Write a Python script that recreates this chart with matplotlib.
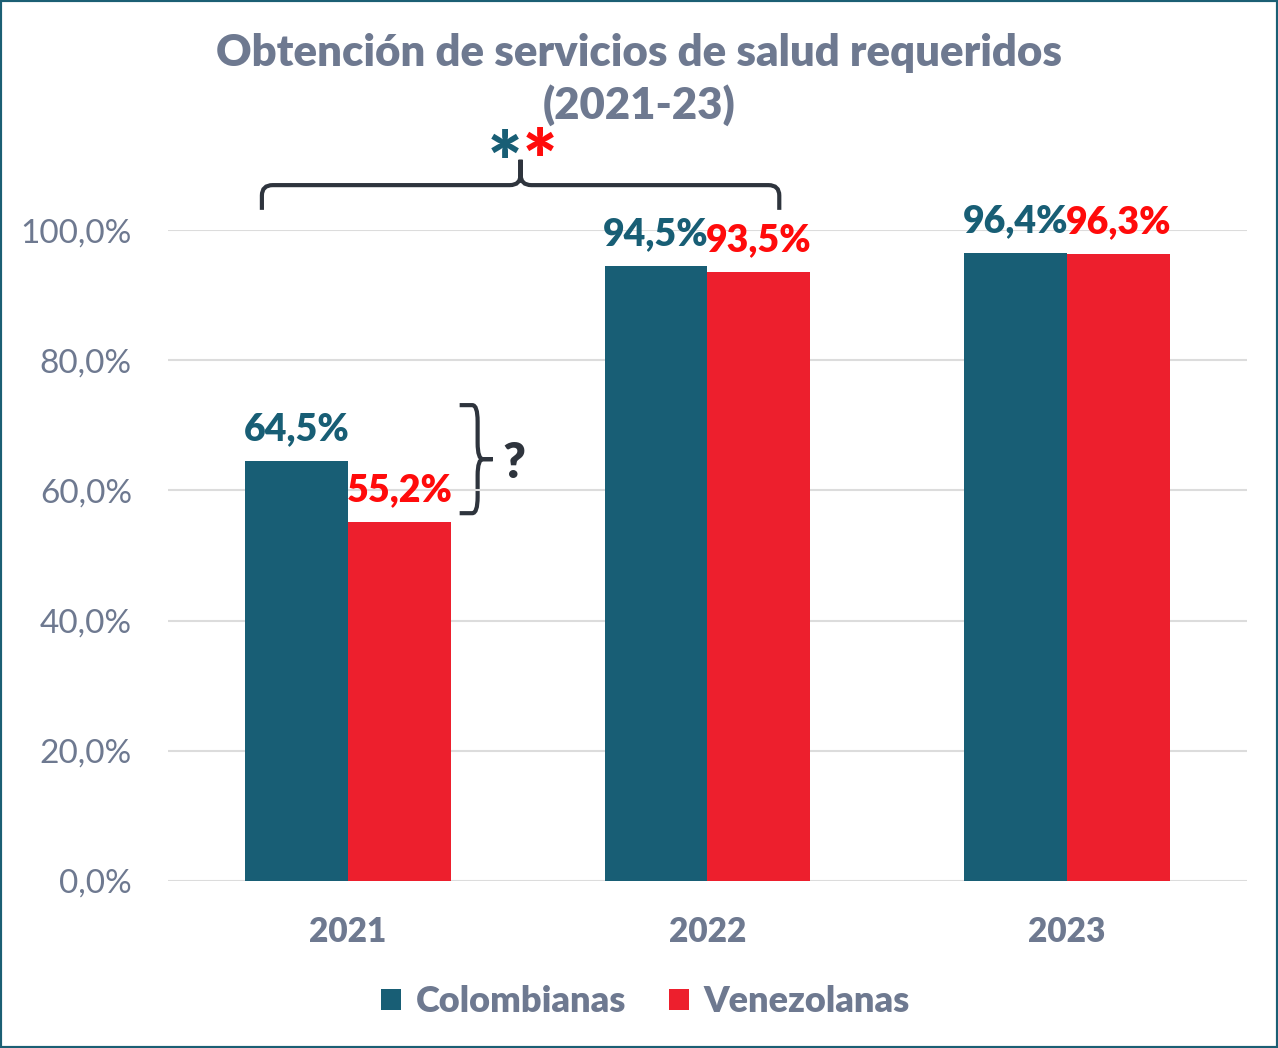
import matplotlib
matplotlib.use('Agg')
import matplotlib.pyplot as plt
from matplotlib.path import Path
from matplotlib.patches import PathPatch, Rectangle
import numpy as np

years = ['2021', '2022', '2023']
colombianas = [64.5, 94.5, 96.4]
venezolanas = [55.2, 93.5, 96.3]
series_names = ['Colombianas', 'Venezolanas']
title = 'Obtención de servicios de salud requeridos\n(2021-23)'

TEAL = '#185e75'
RED = '#ed1f2d'
RED_TXT = '#ff0b0b'
GRAY = '#6e7990'
DARK = '#2e343d'
BOLD = 800

plt.rcParams['font.family'] = ['Lato', 'DejaVu Sans']


def fmt(v):
    return f'{v:.1f}'.replace('.', ',') + '%'


def top_brace(ax, x0, x1, yb, yh, yt, rx, ry):
    xm = (x0 + x1) / 2
    verts = [(x0, yb), (x0, yh - ry), (x0, yh), (x0 + rx, yh),
             (xm - rx, yh), (xm, yh), (xm, yh + ry), (xm, yt),
             (xm, yt), (xm, yh + ry), (xm, yh), (xm + rx, yh),
             (x1 - rx, yh), (x1, yh), (x1, yh - ry), (x1, yb)]
    codes = [Path.MOVETO, Path.LINETO, Path.CURVE3, Path.CURVE3,
             Path.LINETO, Path.CURVE3, Path.CURVE3, Path.LINETO,
             Path.MOVETO, Path.LINETO, Path.CURVE3, Path.CURVE3,
             Path.LINETO, Path.CURVE3, Path.CURVE3, Path.LINETO]
    ax.add_patch(PathPatch(Path(verts, codes), fill=False, ec=DARK, lw=3,
                           clip_on=False, capstyle='butt'))


def right_brace(ax, y0, y1, xb, xh, xt, rx, ry):
    ym = (y0 + y1) / 2
    verts = [(xb, y1), (xh - rx, y1), (xh, y1), (xh, y1 - ry),
             (xh, ym + ry), (xh, ym), (xh + rx, ym), (xt, ym),
             (xt, ym), (xh + rx, ym), (xh, ym), (xh, ym - ry),
             (xh, y0 + ry), (xh, y0), (xh - rx, y0), (xb, y0)]
    codes = [Path.MOVETO, Path.LINETO, Path.CURVE3, Path.CURVE3,
             Path.LINETO, Path.CURVE3, Path.CURVE3, Path.LINETO,
             Path.MOVETO, Path.LINETO, Path.CURVE3, Path.CURVE3,
             Path.LINETO, Path.CURVE3, Path.CURVE3, Path.LINETO]
    ax.add_patch(PathPatch(Path(verts, codes), fill=False, ec=DARK, lw=3,
                           clip_on=False, capstyle='butt'))


fig = plt.figure(figsize=(12.78, 10.48), dpi=100)
ax = fig.add_axes([0.1315, 0.1594, 0.844, 0.6211])

x = np.arange(len(years))
w = 0.286
b1 = ax.bar(x - w / 2, colombianas, w, color=TEAL, label=series_names[0], zorder=3)
b2 = ax.bar(x + w / 2, venezolanas, w, color=RED, label=series_names[1], zorder=3)

for bars, vals, col in [(b1, colombianas, TEAL), (b2, venezolanas, RED_TXT)]:
    for r, v in zip(bars, vals):
        ax.annotate(fmt(v), (r.get_x() + r.get_width() / 2, v),
                    xytext=(0, 15), textcoords='offset points',
                    ha='center', va='baseline', fontsize=27, fontweight=BOLD,
                    color=col, zorder=4)

ax.set_xlim(-0.5, 2.5)
ax.set_ylim(0, 100)
ax.set_yticks(np.arange(0, 101, 20))
ax.set_yticklabels([fmt(v) for v in np.arange(0, 101, 20)])
ax.set_xticks(x)
ax.set_xticklabels(years, fontweight=BOLD)
ax.tick_params(axis='y', length=0, labelsize=24, labelcolor=GRAY, pad=26)
ax.tick_params(axis='x', length=0, labelsize=24, labelcolor=GRAY, pad=25)
ax.grid(axis='y', color='#dcdcdc', lw=1.5, zorder=0)
for s in ax.spines.values():
    s.set_visible(False)

# annotations
top_brace(ax, -0.239, 1.2, 103.1, 106.9, 110.8, 0.03, 1.6)
ax.text(0.436, 106.0, '*', color=TEAL, fontsize=58, fontweight=BOLD,
        ha='center', va='baseline', clip_on=False)
ax.text(0.533, 106.3, '*', color=RED_TXT, fontsize=58, fontweight=BOLD,
        ha='center', va='baseline', clip_on=False)

right_brace(ax, 56.5, 73.1, 0.311, 0.361, 0.403, 0.015, 2.5)
ax.text(0.462, 64.2, '?', color=DARK, fontsize=35, fontweight=BOLD,
        ha='center', va='center')

fig.text(0.5, 0.924, title, ha='center', va='center', fontsize=31.5,
         fontweight=BOLD, color=GRAY, linespacing=1.3)

leg = fig.legend(loc='center', bbox_to_anchor=(0.505, 0.044), ncol=2, frameon=False,
                 handlelength=0.55, handleheight=0.55, columnspacing=1.2,
                 handletextpad=0.4, prop={'weight': BOLD, 'size': 26})
for t in leg.get_texts():
    t.set_color(GRAY)

fig.patches.append(Rectangle((0, 0), 1, 1, transform=fig.transFigure, fill=False,
                             ec='#1b5f74', lw=3, zorder=10))

fig.savefig('out.png', dpi=100)
